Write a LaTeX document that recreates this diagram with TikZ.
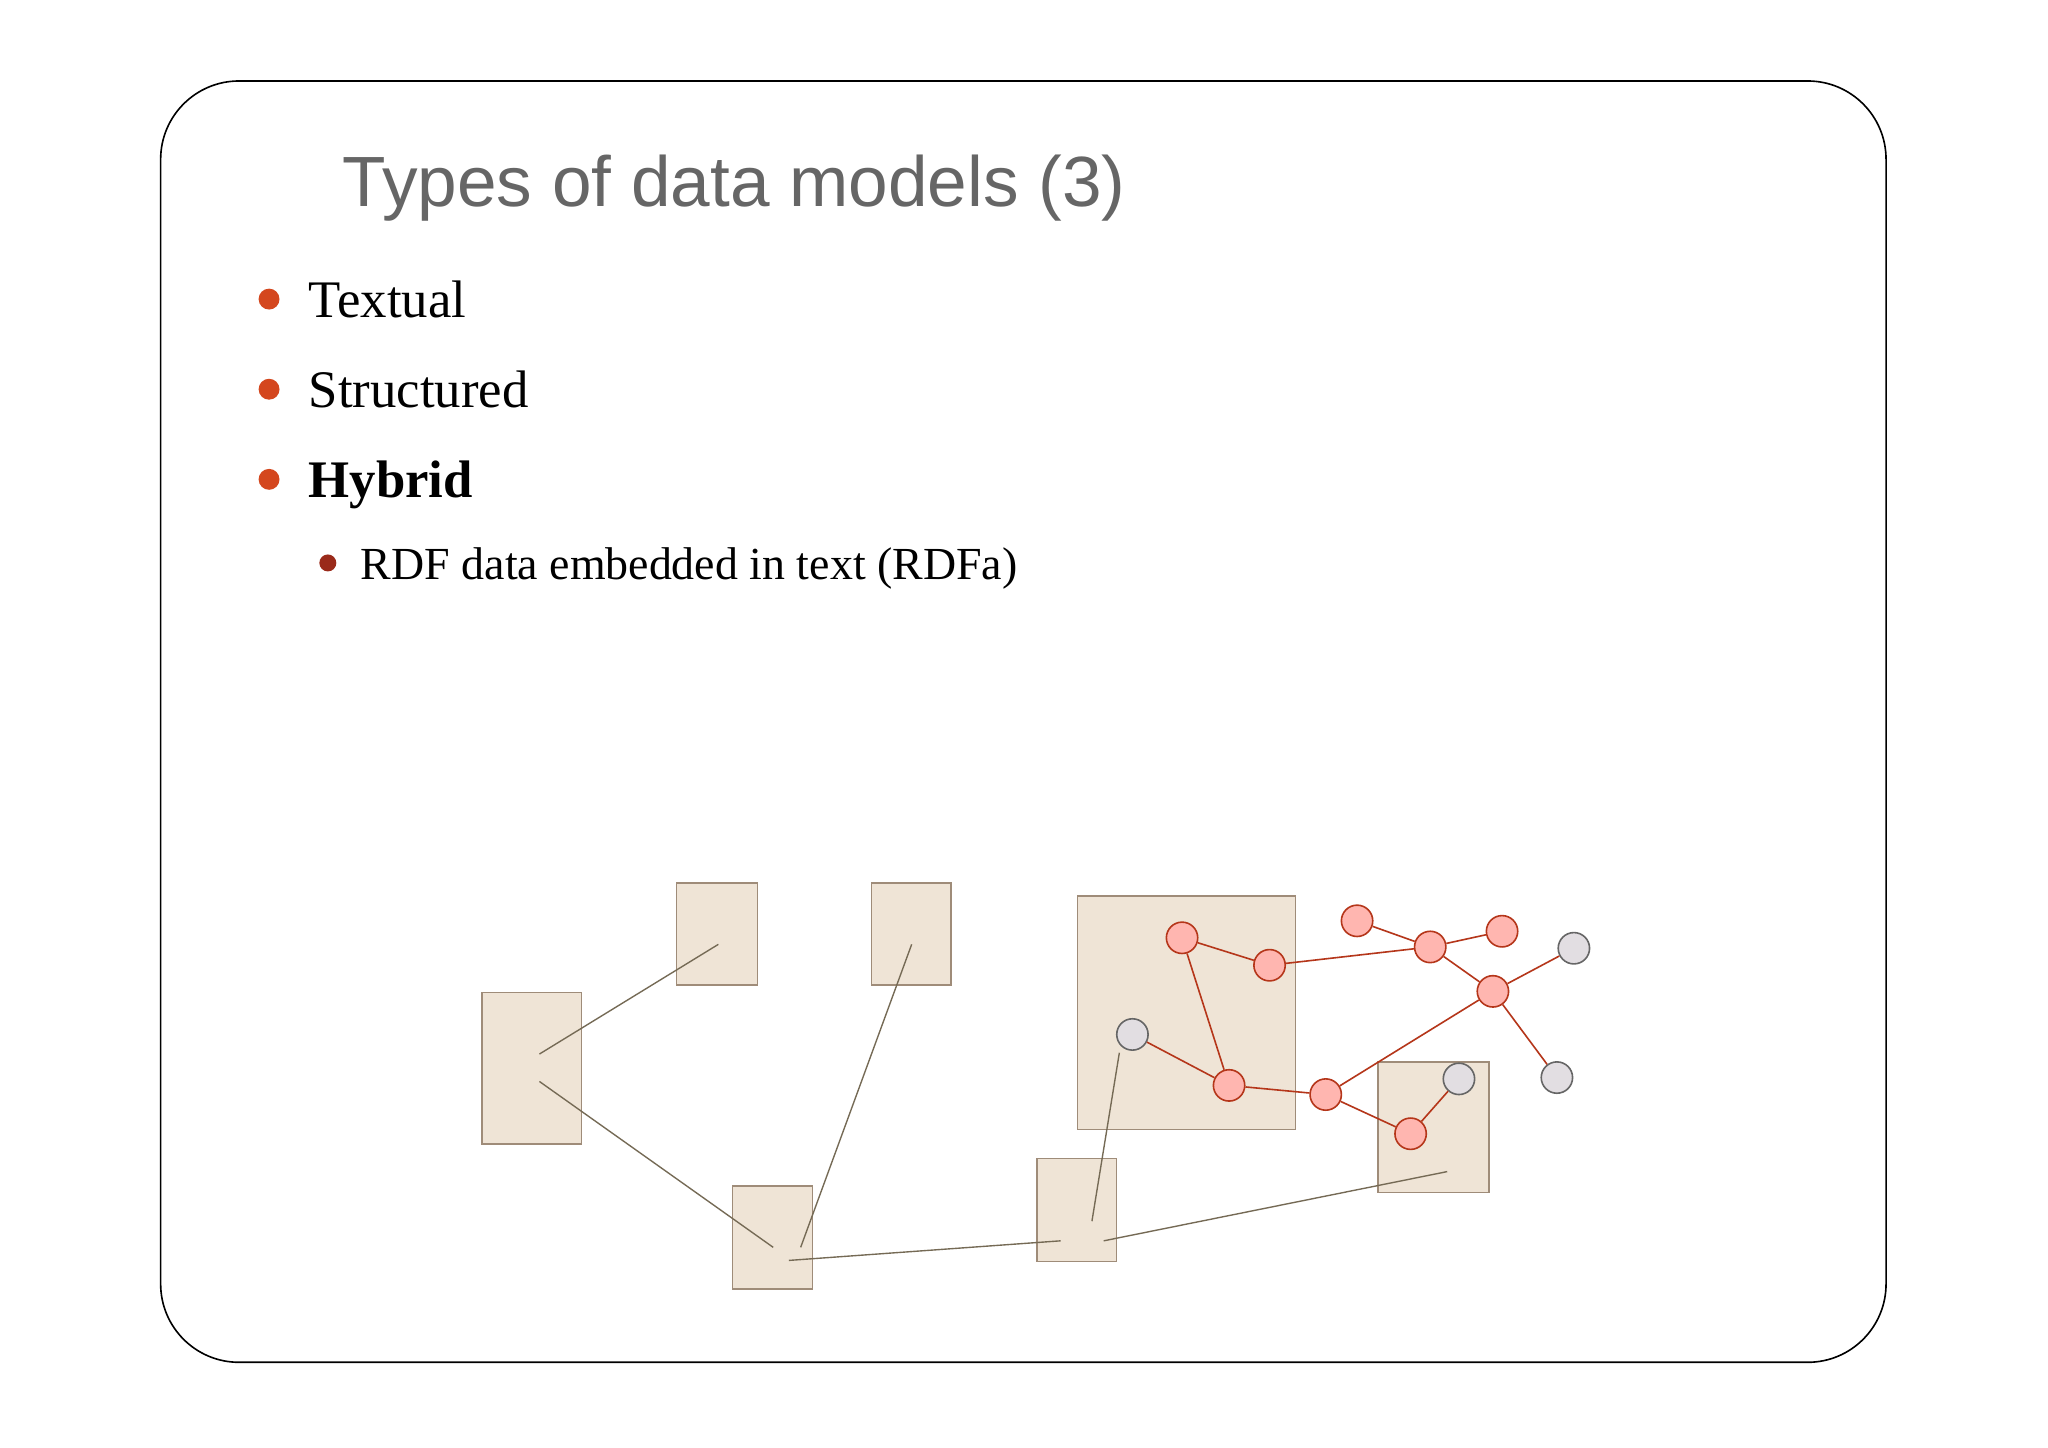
\documentclass[tikz,border=0pt]{standalone}
\usepackage{fontspec}
\setmainfont{Liberation Serif}
\setsansfont{Liberation Sans}
\begin{document}
\begin{tikzpicture}[x=0.02cm,y=-0.02cm,
  box/.style={draw=black!50!brown!60, fill=tanfill, line width=0.6pt},
  lnk/.style={draw=linkgray, line width=0.6pt},
  rn/.style={circle, draw=redline, fill=pinkfill, minimum size=24*0.02cm, inner sep=0pt, line width=0.7pt},
  gn/.style={circle, draw=black!60, fill=grayfill, minimum size=24*0.02cm, inner sep=0pt, line width=0.7pt},
  re/.style={draw=redline, line width=0.7pt}]
\definecolor{tanfill}{HTML}{EFE4D6}
\definecolor{linkgray}{HTML}{756A55}
\definecolor{redline}{HTML}{B5361A}
\definecolor{pinkfill}{HTML}{FFB6B0}
\definecolor{grayfill}{HTML}{E2DEE2}
\definecolor{bulletor}{HTML}{D4471E}
\definecolor{bulletdr}{HTML}{9A2A1A}
\useasboundingbox (0,0) rectangle (1568,1108);
\fill[white] (0,0) rectangle (1568,1108);
\draw[line width=0.7pt, rounded corners=60*0.02cm] (123,62) rectangle (1444,1043);
\node[anchor=base west, inner sep=0pt, text=black!60, font=\sffamily\fontsize{31}{36}\selectfont] (title) at (262,158) {Types of data models (3)};
\fill[bulletor] (206,229) circle (8);
\fill[bulletor] (206,298) circle (8);
\fill[bulletor] (206,367) circle (8);
\fill[bulletdr] (251,431) circle (6.5);
\node[anchor=base west, inner sep=0pt, font=\fontsize{23}{27}\selectfont] (t1) at (236,243) {Textual};
\node[anchor=base west, inner sep=0pt, font=\fontsize{23}{27}\selectfont] (t2) at (236,312) {Structured};
\node[anchor=base west, inner sep=0pt, font=\bfseries\fontsize{23}{27}\selectfont] (t3) at (236,381) {Hybrid};
\node[anchor=base west, inner sep=0pt, font=\fontsize{20}{24}\selectfont] (t4) at (276,444) {RDF data embedded in text (RDFa)};
% boxes
\draw[box] (369,760) rectangle (445,876);
\draw[box] (518,676) rectangle (580,754);
\draw[box] (667,676) rectangle (728,754);
\draw[box] (561,908) rectangle (622,987);
\draw[box] (794,887) rectangle (855,966);
\draw[box] (825,686) rectangle (992,865);
\draw[box] (1055,813) rectangle (1140,913);
% link endpoints
\coordinate (a1) at (413,807); \coordinate (a2) at (550,723);
\coordinate (b1) at (413,828); \coordinate (b2) at (592,955);
\coordinate (c1) at (613,955); \coordinate (c2) at (698,723);
\coordinate (d1) at (604,965); \coordinate (d2) at (812,950);
\coordinate (e1) at (836,935); \coordinate (e2) at (857,806);
\coordinate (f1) at (845,950); \coordinate (f2) at (1108,897);
\draw[lnk] (a1)--(a2); \draw[lnk] (b1)--(b2); \draw[lnk] (c1)--(c2);
\draw[lnk] (d1)--(d2); \draw[lnk] (e1)--(e2); \draw[lnk] (f1)--(f2);
% graph nodes
\node[rn] (r1) at (905,718) {};
\node[rn] (r2) at (972,739) {};
\node[rn] (r3) at (1039,705) {};
\node[rn] (r4) at (1095,725) {};
\node[rn] (r5) at (1150,713) {};
\node[rn] (r6) at (1143,759) {};
\node[rn] (r7) at (941,831) {};
\node[rn] (r8) at (1015,838) {};
\node[rn] (r9) at (1080,868) {};
\node[gn] (g1) at (867,792) {};
\node[gn] (g2) at (1205,726) {};
\node[gn] (g3) at (1192,825) {};
\node[gn] (g4) at (1117,826) {};
\draw[re] (r1)--(r2); \draw[re] (r2)--(r4); \draw[re] (r3)--(r4);
\draw[re] (r4)--(r5); \draw[re] (r4)--(r6); \draw[re] (r6)--(g2);
\draw[re] (r6)--(g3); \draw[re] (r6)--(r8); \draw[re] (r1)--(r7);
\draw[re] (g1)--(r7); \draw[re] (r7)--(r8); \draw[re] (r8)--(r9);
\draw[re] (r9)--(g4);
\end{tikzpicture}
\end{document}
